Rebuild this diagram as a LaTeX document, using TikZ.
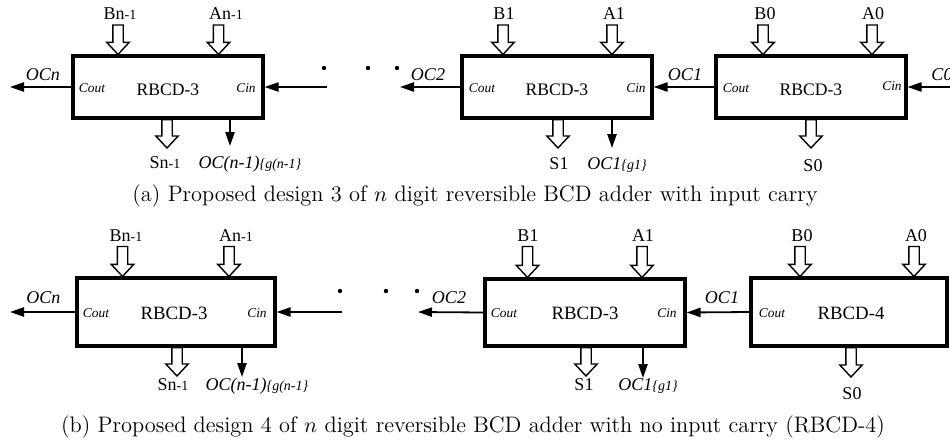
\documentclass[tikz,border=0pt]{standalone}
\usepackage{fontspec}
\newfontfamily\tms{Liberation Serif}
\usetikzlibrary{arrows.meta,calc}
\newcommand\smx[1]{{\fontsize{7}{8}\selectfont #1}}
\begin{document}
\begin{tikzpicture}[x=0.5pt,y=-0.5pt,
  blk/.style={draw, line width=1.6pt, inner sep=0pt},
  lab/.style={font=\tms\fontsize{9}{10}\selectfont, inner sep=0pt, anchor=base},
  ilab/.style={font=\tms\itshape\fontsize{9}{10}\selectfont, inner sep=0pt, anchor=base},
  pinlab/.style={font=\tms\itshape\fontsize{6.7}{8}\selectfont, inner sep=0pt, anchor=base},
  boxlab/.style={font=\tms\fontsize{8.8}{10}\selectfont, inner sep=0pt, anchor=base},
  boxlabb/.style={font=\tms\fontsize{9.4}{10}\selectfont, inner sep=0pt, anchor=base},
  captext/.style={font=\fontsize{11.2}{13}\selectfont, inner sep=0pt, anchor=base},
  thin/.style={line width=0.9pt, -{Triangle[length=7pt,width=4.6pt]}},
  hollow/.style={draw, line width=0.7pt, fill=white,
    to path={let \p1=(\tikztostart), \p2=(\tikztotarget) in
      (\x1-2.6pt,\y1) -- (\x1+2.6pt,\y1) -- (\x1+2.6pt,\y2+6pt) -- (\x1+5.6pt,\y2+6pt)
      -- (\x1,\y2) -- (\x1-5.6pt,\y2+6pt) -- (\x1-2.6pt,\y2+6pt) -- cycle}},
  dot/.style={circle, fill, inner sep=0pt, minimum size=2.2pt}
]
\useasboundingbox (0,0) rectangle (950,446);

%% ---------------- panel (a) ----------------
\node[blk, minimum width=95pt, minimum height=31pt] (a1) at (168,87) {};
\node[blk, minimum width=95pt, minimum height=31pt] (a2) at (557,87) {};
\node[blk, minimum width=95pt, minimum height=31pt] (a3) at (811,87) {};

\node[pinlab] (a1co) at (92,92) {Cout};
\node[boxlab] (a1t) at (168,95) {RBCD-3};
\node[pinlab] (a1ci) at (246,92) {Cin};
\node[pinlab] (a2co) at (482,92) {Cout};
\node[boxlab] (a2t) at (557,95) {RBCD-3};
\node[pinlab] (a2ci) at (636,92) {Cin};
\node[pinlab] (a3co) at (736,92) {Cout};
\node[boxlab] (a3t) at (811,95) {RBCD-3};
\node[pinlab] (a3ci) at (892,90) {Cin};

% top labels
\node[lab] (aBn) at (120,19) {Bn\smx{-1}};
\node[lab] (aAn) at (226,19) {An\smx{-1}};
\node[lab] (aB1) at (504,19) {B1};
\node[lab] (aA1) at (614,19) {A1};
\node[lab] (aB0) at (765,19) {B0};
\node[lab] (aA0) at (873,19) {A0};
\coordinate (saBn) at (118,25);
\coordinate (saAn) at (218.5,25);
\coordinate (saB1) at (503,25);
\coordinate (saA1) at (612,25);
\coordinate (saB0) at (763,25);
\coordinate (saA0) at (872,25);
\draw[hollow] (saBn) to (saBn |- a1.north);
\draw[hollow] (saAn) to (saAn |- a1.north);
\draw[hollow] (saB1) to (saB1 |- a2.north);
\draw[hollow] (saA1) to (saA1 |- a2.north);
\draw[hollow] (saB0) to (saB0 |- a3.north);
\draw[hollow] (saA0) to (saA0 |- a3.north);

% bottom
\node[lab] (aSn) at (165,168) {Sn\smx{-1}};
\node[ilab] (aOCg) at (250,168) {OC(n-1)\smx{\{g(n-1\}}};
\node[lab] (aS1) at (559,169) {S1};
\node[ilab] (aOC1g) at (617,169) {OC1\smx{\{g1\}}};
\node[lab] (aS0) at (813,171) {S0};
\coordinate (taSn) at (167,148);
\coordinate (taS1) at (558,148);
\coordinate (taS0) at (811,148);
\coordinate (taOCg) at (230,146);
\coordinate (taOC1g) at (612,148);
\draw[hollow] (taSn |- a1.south) to (taSn);
\draw[hollow] (taS1 |- a2.south) to (taS1);
\draw[hollow] (taS0 |- a3.south) to (taS0);
\draw[thin] (taOCg |- a1.south) -- (taOCg);
\draw[thin] (taOC1g |- a2.south) -- (taOC1g);

% horizontal carries
\coordinate (aOCnEnd) at (10,87);
\coordinate (aCinStart) at (327,87);
\coordinate (aOC2End) at (400,87);
\coordinate (aC0Start) at (952,87);
\draw[thin] (a1.west) -- (aOCnEnd);
\draw[thin] (aCinStart) -- (a1.east);
\draw[thin] (a2.west) -- (aOC2End);
\draw[thin] (a3.west) -- (a2.east);
\draw[thin] (aC0Start) -- (a3.east);
\node[ilab] (aOCn) at (43,80) {OCn};
\node[ilab] (aOC2) at (428,80) {OC2};
\node[ilab] (aOC1) at (685,80) {OC1};
\node[ilab] (aC0) at (942,80) {C0};
\node[dot] (ad1) at (324,68) {};
\node[dot] (ad2) at (368,68) {};
\node[dot] (ad3) at (397,68) {};

\node[captext] (capa) at (475,201) {(a) Proposed design 3 of $n$ digit reversible BCD adder with input carry};

%% ---------------- panel (b) ----------------
\node[blk, minimum width=99pt, minimum height=34pt] (b1) at (176,312) {};
\node[blk, minimum width=100pt, minimum height=33.5pt] (b2) at (585,312.5) {};
\node[blk, minimum width=98pt, minimum height=34pt] (b3) at (849,312) {};

\node[pinlab] (b1co) at (96,317) {Cout};
\node[boxlabb] (b1t) at (174,319) {RBCD-3};
\node[pinlab] (b1ci) at (257,317) {Cin};
\node[pinlab] (b2co) at (504,317) {Cout};
\node[boxlabb] (b2t) at (585,319) {RBCD-3};
\node[pinlab] (b2ci) at (667,317) {Cin};
\node[pinlab] (b3co) at (772,317) {Cout};
\node[boxlabb] (b3t) at (851,319) {RBCD-4};

% top labels
\node[lab] (bBn) at (126,241) {Bn\smx{-1}};
\node[lab] (bAn) at (236,241) {An\smx{-1}};
\node[lab] (bB1) at (528,241) {B1};
\node[lab] (bA1) at (643,241) {A1};
\node[lab] (bB0) at (802,241) {B0};
\node[lab] (bA0) at (916,241) {A0};
\coordinate (sbBn) at (122.5,246.5);
\coordinate (sbAn) at (229,246.5);
\coordinate (sbB1) at (527.5,246.5);
\coordinate (sbA1) at (642,246.5);
\coordinate (sbB0) at (800,246.5);
\coordinate (sbA0) at (914,246.5);
\draw[hollow] (sbBn) to (sbBn |- b1.north);
\draw[hollow] (sbAn) to (sbAn |- b1.north);
\draw[hollow] (sbB1) to (sbB1 |- b2.north);
\draw[hollow] (sbA1) to (sbA1 |- b2.north);
\draw[hollow] (sbB0) to (sbB0 |- b3.north);
\draw[hollow] (sbA0) to (sbA0 |- b3.north);

% bottom
\node[lab] (bSn) at (173,390) {Sn\smx{-1}};
\node[ilab] (bOCg) at (257,390) {OC(n-1)\smx{\{g(n-1\}}};
\node[lab] (bS1) at (584,390) {S1};
\node[ilab] (bOC1g) at (648,390) {OC1\smx{\{g1\}}};
\node[lab] (bS0) at (852,399) {S0};
\coordinate (tbSn) at (177,376);
\coordinate (tbS1) at (586,376);
\coordinate (tbS0) at (851,377);
\coordinate (tbOCg) at (242,377);
\coordinate (tbOC1g) at (643,378);
\draw[hollow] (tbSn |- b1.south) to (tbSn);
\draw[hollow] (tbS1 |- b2.south) to (tbS1);
\draw[hollow] (tbS0 |- b3.south) to (tbS0);
\draw[thin] (tbOCg |- b1.south) -- (tbOCg);
\draw[thin] (tbOC1g |- b2.south) -- (tbOC1g);

% horizontal carries
\coordinate (bOCnEnd) at (10,312);
\coordinate (bCinStart) at (342,312);
\coordinate (bOC2End) at (418,312);
\draw[thin] (b1.west) -- (bOCnEnd);
\draw[thin] (bCinStart) -- (b1.east);
\draw[thin] (b2.west) -- (bOC2End);
\draw[thin] (b3.west) -- (b2.east);
\node[ilab] (bOCn) at (43.5,303) {OCn};
\node[ilab] (bOC2) at (449,303) {OC2};
\node[ilab] (bOC1) at (722,303) {OC1};
\node[dot] (bd1) at (340,291) {};
\node[dot] (bd2) at (386,291) {};
\node[dot] (bd3) at (417,291) {};

\node[captext] (capb) at (473,432) {(b) Proposed design 4 of $n$ digit reversible BCD adder with no input carry (RBCD-4)};
\end{tikzpicture}
\end{document}
